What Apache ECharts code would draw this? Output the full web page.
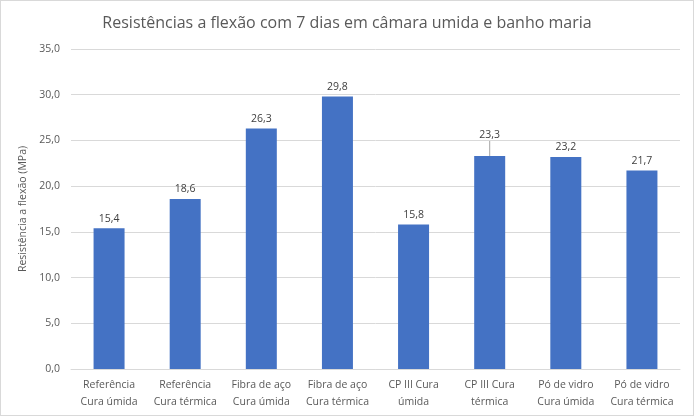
<!DOCTYPE html>
<html><head><meta charset="utf-8">
<script src="https://cdn.jsdelivr.net/npm/echarts@6/dist/echarts.min.js"></script>
<style>html,body{margin:0;padding:0;background:#fff}#c{width:694px;height:416px;box-sizing:border-box;border:1px solid #d9d9d9}</style>
</head><body><div id="c"></div>
<script>
const titleText = 'Resistências a flexão com 7 dias em câmara umida e banho maria';
const categories = ['Referência\nCura úmida','Referência\nCura térmica','Fibra de aço\nCura úmida','Fibra de aço\nCura térmica','CP III Cura\númida','CP III Cura\ntérmica','Pó de vidro\nCura úmida','Pó de vidro\nCura térmica'];
const values = [15.4, 18.6, 26.3, 29.8, 15.8, 23.3, 23.2, 21.7];
const leaderIndex = 5;
const yName = 'Resistência a flexão (MPa)';
const fmt = v => v.toFixed(1).replace('.', ',');
const chart = echarts.init(document.getElementById('c'), null, {renderer:'canvas'});
const font = 'Open Sans';
chart.setOption({
  animation:false,
  title:{text:titleText,left:'center',top:9,textStyle:{fontFamily:font,fontSize:16,fontWeight:'normal',color:'#595959'}},
  grid:{left:70,right:13,top:48,bottom:46},
  xAxis:{type:'category',data:categories,axisLine:{lineStyle:{color:'#d9d9d9'}},axisTick:{show:false},
    axisLabel:{interval:0,fontFamily:font,fontSize:10.5,color:'#595959',lineHeight:17,margin:8}},
  yAxis:{type:'value',min:0,max:35,interval:5,name:yName,nameLocation:'middle',nameGap:31,
    nameTextStyle:{fontFamily:font,fontSize:10.5,color:'#595959'},
    axisLine:{show:false},axisTick:{show:false},splitLine:{lineStyle:{color:'#d9d9d9'}},
    axisLabel:{formatter:v=>fmt(v),fontFamily:font,fontSize:10.5,color:'#595959',margin:11}},
  series:[{type:'bar',barWidth:31,itemStyle:{color:'#4472C4'},
    data:values.map((v,i)=>i===leaderIndex?{value:v,labelLine:{show:true,lineStyle:{color:'#a6a6a6',width:1}}}:v),
    label:{show:true,position:'top',distance:4,formatter:p=>fmt(p.value),fontFamily:font,fontSize:10.5,color:'#404040'},
    labelLayout:function(p){return p.dataIndex===leaderIndex?{dy:-11}:{};},
    labelLine:{show:false,length2:0,minTurnAngle:0}
  }]
});
</script></body></html>
